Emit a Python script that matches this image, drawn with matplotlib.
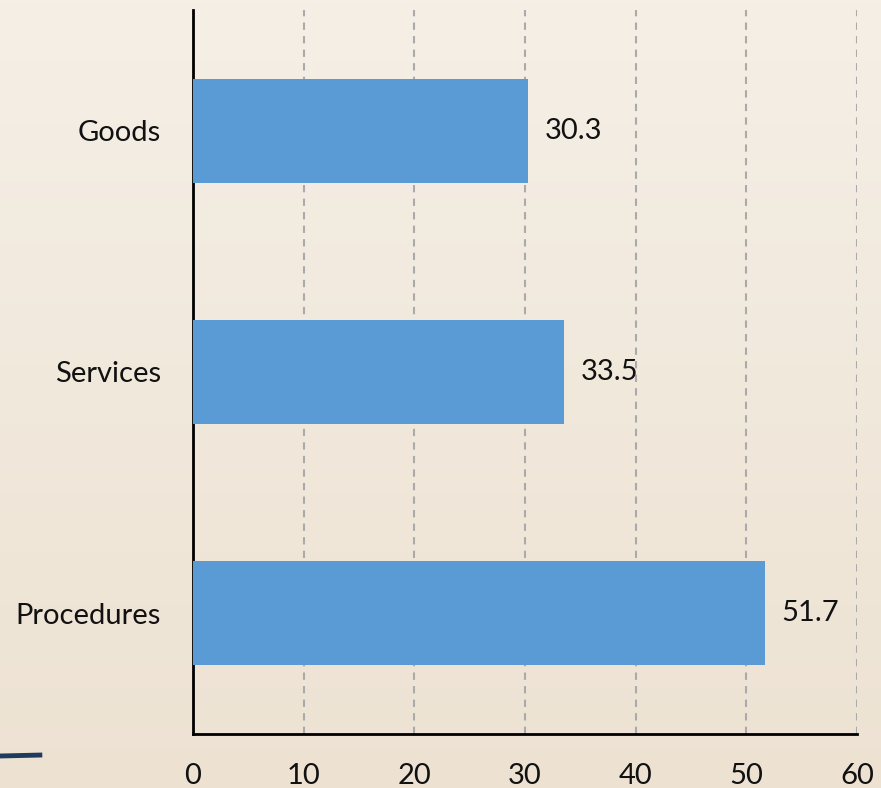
import numpy as np
import matplotlib.pyplot as plt
from matplotlib.colors import LinearSegmentedColormap

categories = ["Procedures", "Services", "Goods"]
values = [51.7, 33.5, 30.3]
x_ticks = [0, 10, 20, 30, 40, 50, 60]

plt.rcParams['font.family'] = ['Lato', 'DejaVu Sans']

fig = plt.figure(figsize=(8.81, 7.88), dpi=100)

# beige gradient background
bg = fig.add_axes([0, 0, 1, 1], zorder=-10)
grad = np.linspace(0, 1, 256).reshape(-1, 1)
cmap = LinearSegmentedColormap.from_list("bg", ["#F5EFE6", "#EDE2D2"])
bg.imshow(grad, aspect="auto", cmap=cmap, extent=[0, 1, 0, 1], origin="upper")
bg.plot([0, 0.048], [1 - 756 / 788, 1 - 755 / 788], color="#1F3A5F", lw=3.5,
        solid_capstyle="butt")
bg.set_xlim(0, 1)
bg.set_ylim(0, 1)
bg.axis("off")

ax = fig.add_axes([193 / 881, 1 - 734 / 788, (857 - 193) / 881, (734 - 10) / 788])
ax.patch.set_alpha(0)

y = np.arange(len(categories))
bars = ax.barh(y, values, height=0.43, color="#5B9BD5", zorder=3)
for b, v in zip(bars, values):
    ax.text(v + 1.5, b.get_y() + b.get_height() / 2, f"{v}", va="center",
            ha="left", fontsize=21, color="#111111", zorder=4)

ax.set_xlim(0, 60)
ax.set_ylim(-0.5, 2.5)
ax.set_xticks(x_ticks)
ax.set_yticks(y)
ax.set_yticklabels(categories)
ax.tick_params(axis="both", length=0, labelsize=21, colors="#111111")
ax.tick_params(axis="x", pad=21)
ax.tick_params(axis="y", pad=23)
ax.xaxis.grid(True, linestyle=(0, (3.5, 3)), color="#AAAAAA", lw=1.5, zorder=0)
for s in ["top", "right"]:
    ax.spines[s].set_visible(False)
for s in ["left", "bottom"]:
    ax.spines[s].set_linewidth(2)
    ax.spines[s].set_color("black")

fig.savefig("out.png", dpi=100)
